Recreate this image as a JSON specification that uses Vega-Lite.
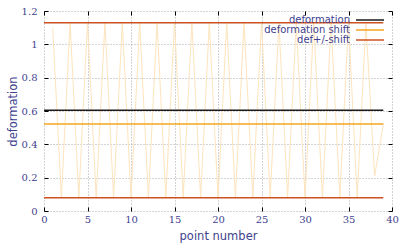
{
  "$schema": "https://vega.github.io/schema/vega-lite/v6.json",
  "width": 348,
  "height": 200,
  "autosize": "none",
  "padding": {"left": 44, "top": 11, "right": 8, "bottom": 32},
  "background": "white",
  "config": {"view": {"stroke": null}},
  "datasets": {
    "zig": [
      {"point": 1, "deformation": 1.095},
      {"point": 2, "deformation": 0.08},
      {"point": 3, "deformation": 1.13},
      {"point": 4, "deformation": 0.08},
      {"point": 5, "deformation": 1.13},
      {"point": 6, "deformation": 0.08},
      {"point": 7, "deformation": 1.13},
      {"point": 8, "deformation": 0.08},
      {"point": 9, "deformation": 1.13},
      {"point": 10, "deformation": 0.08},
      {"point": 11, "deformation": 1.13},
      {"point": 12, "deformation": 0.08},
      {"point": 13, "deformation": 1.13},
      {"point": 14, "deformation": 0.08},
      {"point": 15, "deformation": 1.13},
      {"point": 16, "deformation": 0.08},
      {"point": 17, "deformation": 1.13},
      {"point": 18, "deformation": 0.08},
      {"point": 19, "deformation": 1.13},
      {"point": 20, "deformation": 0.08},
      {"point": 21, "deformation": 1.13},
      {"point": 22, "deformation": 0.08},
      {"point": 23, "deformation": 1.13},
      {"point": 24, "deformation": 0.08},
      {"point": 25, "deformation": 1.13},
      {"point": 26, "deformation": 0.08},
      {"point": 27, "deformation": 1.13},
      {"point": 28, "deformation": 0.08},
      {"point": 29, "deformation": 1.13},
      {"point": 30, "deformation": 0.08},
      {"point": 31, "deformation": 1.13},
      {"point": 32, "deformation": 0.08},
      {"point": 33, "deformation": 1.13},
      {"point": 34, "deformation": 0.08},
      {"point": 35, "deformation": 1.13},
      {"point": 36, "deformation": 0.08},
      {"point": 37, "deformation": 1.13},
      {"point": 38, "deformation": 0.21},
      {"point": 39, "deformation": 0.52}
    ],
    "lines": [
      {"point": 0, "deformation": 0.605, "series": "deformation", "line": "d"},
      {"point": 39, "deformation": 0.605, "series": "deformation", "line": "d"},
      {"point": 0, "deformation": 0.522, "series": "deformation shift", "line": "s"},
      {"point": 39, "deformation": 0.522, "series": "deformation shift", "line": "s"},
      {"point": 0, "deformation": 1.13, "series": "def+/-shift", "line": "upper"},
      {"point": 39, "deformation": 1.13, "series": "def+/-shift", "line": "upper"},
      {"point": 0, "deformation": 0.08, "series": "def+/-shift", "line": "lower"},
      {"point": 39, "deformation": 0.08, "series": "def+/-shift", "line": "lower"}
    ]
  },
  "layer": [
    {
      "data": {"name": "zig"},
      "mark": {"type": "line", "color": "#fde4bd", "strokeWidth": 1},
      "encoding": {
        "x": {
          "field": "point", "type": "quantitative",
          "scale": {"domain": [0, 40], "nice": false, "zero": false},
          "axis": {"orient": "top", "values": [0, 5, 10, 15, 20, 25, 30, 35, 40], "labels": false, "title": null, "grid": false, "domain": false, "tickSize": -4, "tickColor": "black"}
        },
        "y": {
          "field": "deformation", "type": "quantitative",
          "scale": {"domain": [0, 1.2], "nice": false, "zero": false},
          "axis": {"orient": "right", "values": [0, 0.2, 0.4, 0.6, 0.8, 1, 1.2], "labels": false, "title": null, "grid": false, "domain": false, "tickSize": -4, "tickColor": "black"}
        }
      }
    },
    {
      "data": {"name": "lines"},
      "mark": {"type": "line", "strokeWidth": 1.5},
      "encoding": {
        "x": {
          "field": "point", "type": "quantitative",
          "axis": {"orient": "bottom", "values": [0, 5, 10, 15, 20, 25, 30, 35, 40], "title": "point number", "domain": false, "tickSize": -4, "tickColor": "black", "labelPadding": 7, "labelFlush": false, "labelFont": "DejaVu Serif", "labelFontSize": 10, "labelColor": "#3f3f8f", "titleFont": "DejaVu Sans", "titleFontSize": 11.5, "titleFontWeight": "normal", "titleColor": "#3f3f8f", "titlePadding": 6, "grid": true, "gridColor": "#a8a8a8", "gridDash": [1, 2], "gridWidth": 1}
        },
        "y": {
          "field": "deformation", "type": "quantitative",
          "axis": {"orient": "left", "values": [0, 0.2, 0.4, 0.6, 0.8, 1, 1.2], "format": "~g", "title": "deformation", "domain": false, "tickSize": -4, "tickColor": "black", "labelPadding": 11, "labelFlush": false, "labelFont": "DejaVu Serif", "labelFontSize": 10, "labelColor": "#3f3f8f", "titleFont": "DejaVu Sans", "titleFontSize": 11.5, "titleFontWeight": "normal", "titleColor": "#3f3f8f", "titlePadding": 3, "grid": true, "gridColor": "#a8a8a8", "gridDash": [1, 2], "gridWidth": 1}
        },
        "color": {
          "field": "series", "type": "nominal",
          "scale": {"domain": ["deformation", "deformation shift", "def+/-shift"], "range": ["#1a1a1a", "#f5a623", "#cc5020"]},
          "legend": {"orient": "none", "legendX": 321, "legendY": 4, "title": null, "symbolType": "M-5,0H5", "symbolSize": 31.36, "symbolStrokeWidth": 1.5, "labelOffset": -25, "labelAlign": "right", "rowPadding": 0, "padding": 0, "labelFont": "DejaVu Sans", "labelFontSize": 10, "labelColor": "#3f3f8f"}
        },
        "detail": {"field": "line", "type": "nominal"}
      }
    }
  ],
  "resolve": {"axis": {"x": "independent", "y": "independent"}}
}
